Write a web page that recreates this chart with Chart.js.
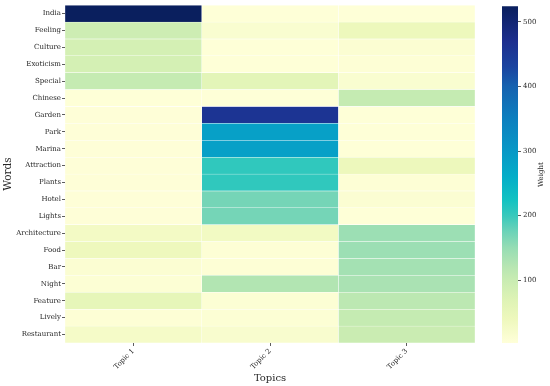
<!DOCTYPE html>
<html>
<head>
<meta charset="utf-8">
<script src="https://cdn.jsdelivr.net/npm/chart.js@4.4.1/dist/chart.umd.min.js"></script>
<style>
  html, body { margin: 0; padding: 0; background: #ffffff; }
  #wrap { position: relative; width: 550px; height: 386px; }
  #main { position: absolute; left: 0; top: 0; }
  #cbar { position: absolute; left: 480px; top: 0; }
</style>
</head>
<body>
<div id="wrap">
  <canvas id="main" width="550" height="386"></canvas>
  <canvas id="cbar" width="70" height="386"></canvas>
</div>
<script>
// ---------------- DATA ----------------
const words = ['India','Feeling','Culture','Exoticism','Special','Chinese','Garden','Park','Marina',
  'Attraction','Plants','Hotel','Lights','Architecture','Food','Bar','Night','Feature','Lively','Restaurant'];
const topics = ['Topic 1','Topic 2','Topic 3'];
const topic1 = [524, 95, 85, 85, 105, 5, 6, 6, 6, 6, 6, 6, 6, 30, 40, 12, 10, 55, 8, 25];
const topic2 = [5, 15, 5, 5, 60, 5, 460, 285, 285, 205, 205, 170, 170, 32, 8, 8, 125, 10, 10, 18];
const topic3 = [5, 42, 12, 8, 15, 105, 5, 5, 5, 42, 8, 12, 5, 145, 145, 138, 132, 115, 105, 98];
const colorbarTicks = [100, 200, 300, 400, 500];
const weightMin = 3;
const weightMax = 524;
</script>
<script>
// ---------------- STYLE ----------------
const FONT = "'DejaVu Serif', 'Liberation Serif', serif";
const TXT = '#262626';
const cmapStops = [
  [3,   '#ffffd9'],
  [40,  '#eef8bd'],
  [70,  '#def3b5'],
  [100, '#c9ecb2'],
  [120, '#b8e6b2'],
  [150, '#96ddb4'],
  [175, '#6dd3b8'],
  [200, '#38c9bc'],
  [225, '#12c2c2'],
  [260, '#04aec8'],
  [300, '#0898c6'],
  [350, '#0c7fbf'],
  [400, '#1662b0'],
  [430, '#1a44a0'],
  [470, '#1d2f8e'],
  [524, '#0a1f5e']
];
function hexToRgb(h) {
  return [parseInt(h.slice(1,3),16), parseInt(h.slice(3,5),16), parseInt(h.slice(5,7),16)];
}
function colorFor(v) {
  if (v <= cmapStops[0][0]) return cmapStops[0][1];
  for (let i = 1; i < cmapStops.length; i++) {
    if (v <= cmapStops[i][0]) {
      const [v0, c0] = cmapStops[i-1], [v1, c1] = cmapStops[i];
      const t = (v - v0) / (v1 - v0);
      const a = hexToRgb(c0), b = hexToRgb(c1);
      const r = a.map((x, k) => Math.round(x + (b[k] - x) * t));
      return `rgb(${r[0]},${r[1]},${r[2]})`;
    }
  }
  return cmapStops[cmapStops.length-1][1];
}

const series = [topic1, topic2, topic3];
const datasets = series.map((vals, j) => ({
  label: topics[j],
  data: vals.map(() => [j, j + 1]),
  backgroundColor: vals.map(colorFor),
  borderColor: 'rgba(255,255,255,0.9)',
  borderWidth: 0.5,
  borderSkipped: false,
  grouped: false,
  barPercentage: 1,
  categoryPercentage: 1
}));

new Chart(document.getElementById('main'), {
  type: 'bar',
  data: { labels: words, datasets },
  options: {
    responsive: false,
    animation: false,
    indexAxis: 'y',
    layout: { padding: { left: 0, right: 75, top: 5, bottom: 0 } },
    plugins: { legend: { display: false }, tooltip: { enabled: false } },
    scales: {
      x: {
        type: 'linear',
        min: 0, max: 3,
        afterBuildTicks: (s) => { s.ticks = topics.map((t, i) => ({ value: i + 0.5 })); },
        afterFit: (s) => { s.height = 43; },
        ticks: {
          callback: (v) => topics[Math.round(v - 0.5)],
          minRotation: 45, maxRotation: 45,
          font: { family: FONT, size: 7 }, color: TXT, padding: 1
        },
        grid: { drawOnChartArea: false, drawTicks: true, tickLength: 3, color: '#333', lineWidth: 0.8 },
        border: { display: false },
        title: { display: true, text: 'Topics', font: { family: FONT, size: 10 }, color: TXT, padding: { top: 0, bottom: 2 } }
      },
      y: {
        type: 'category',
        afterFit: (s) => { s.width = 65; },
        ticks: { font: { family: FONT, size: 7 }, color: TXT, padding: 1 },
        grid: { offset: false, drawOnChartArea: false, drawTicks: true, tickLength: 3, color: '#333', lineWidth: 0.8 },
        border: { display: false },
        title: { display: true, text: 'Words', font: { family: FONT, size: 10.5 }, color: TXT, padding: { top: 2, bottom: 0 } }
      }
    }
  }
});

// ---------------- COLORBAR ----------------
const weightTitle = {
  id: 'weightTitle',
  afterDraw(chart) {
    const ctx = chart.ctx;
    ctx.save();
    ctx.translate(61, (chart.chartArea.top + chart.chartArea.bottom) / 2);
    ctx.rotate(-Math.PI / 2);
    ctx.font = `7px ${FONT}`;
    ctx.fillStyle = TXT;
    ctx.textAlign = 'center';
    ctx.textBaseline = 'middle';
    ctx.fillText('Weight', 0, 0);
    ctx.restore();
  }
};

new Chart(document.getElementById('cbar'), {
  type: 'bar',
  data: {
    labels: ['Weight'],
    datasets: [{
      data: [[weightMin, weightMax]],
      backgroundColor: (ctx) => {
        const ca = ctx.chart.chartArea;
        if (!ca) return '#ffffff';
        const g = ctx.chart.ctx.createLinearGradient(0, ca.bottom, 0, ca.top);
        cmapStops.forEach(([v, c]) => g.addColorStop((v - weightMin) / (weightMax - weightMin), c));
        return g;
      },
      borderWidth: 0,
      barPercentage: 1,
      categoryPercentage: 1
    }]
  },
  options: {
    responsive: false,
    animation: false,
    layout: { padding: { left: 22, right: 0, top: 5, bottom: 43 } },
    plugins: { legend: { display: false }, tooltip: { enabled: false } },
    scales: {
      x: { display: false },
      y: {
        type: 'linear',
        position: 'right',
        min: weightMin, max: weightMax,
        afterBuildTicks: (s) => { s.ticks = colorbarTicks.map(v => ({ value: v })); },
        afterFit: (s) => { s.width = 32; },
        ticks: { font: { family: FONT, size: 7 }, color: TXT, padding: 2 },
        grid: { drawOnChartArea: false, drawTicks: true, tickLength: 3, color: '#333', lineWidth: 0.8 },
        border: { display: false }
      }
    }
  },
  plugins: [weightTitle]
});
</script>
</body>
</html>
